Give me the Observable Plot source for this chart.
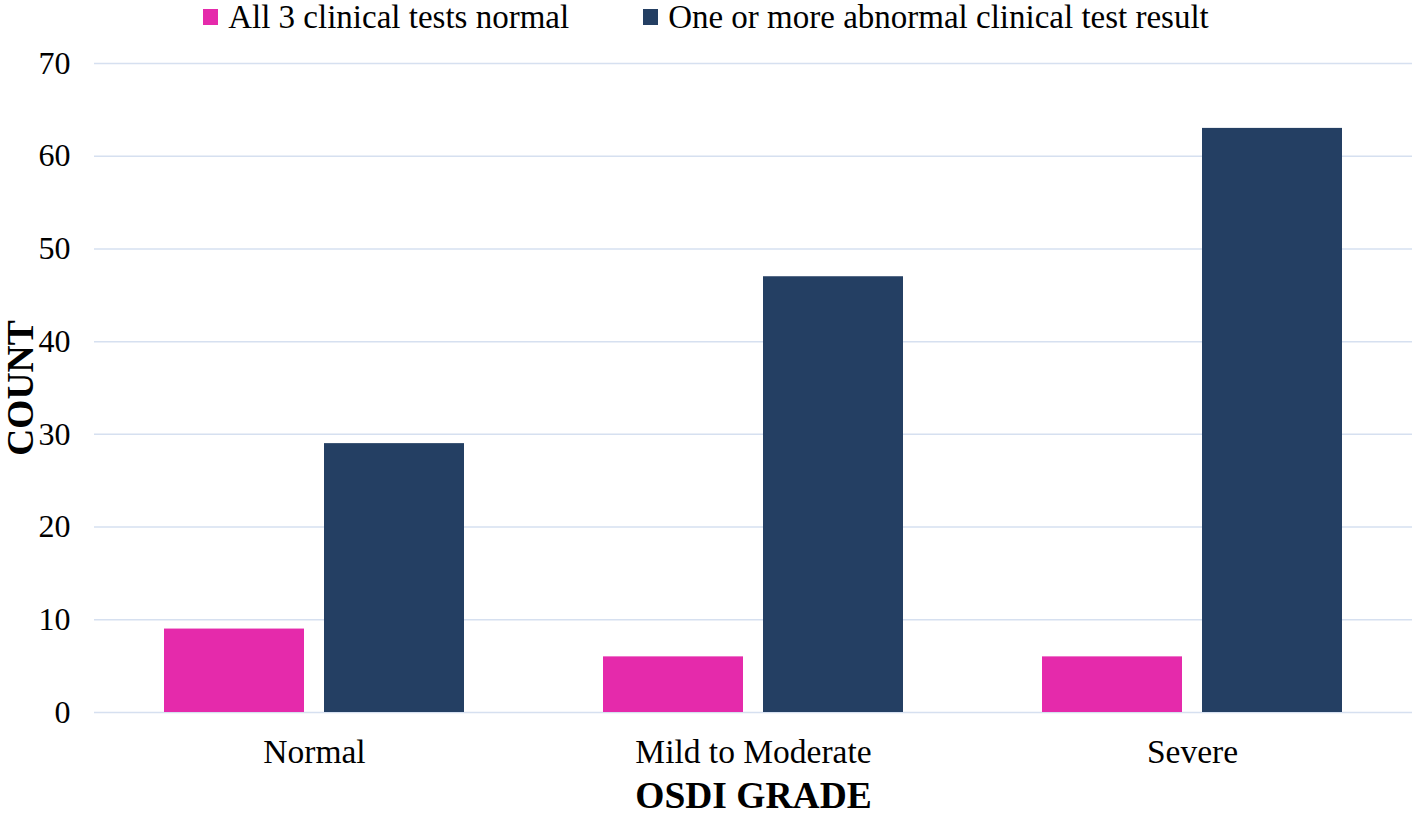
<!DOCTYPE html>
<html><head><meta charset="utf-8">
<script src="https://cdn.jsdelivr.net/npm/d3@7"></script>
<script src="https://cdn.jsdelivr.net/npm/@observablehq/plot@0.6"></script>
<style>
html,body{margin:0;padding:0;background:#fff;}
#legend{display:flex;justify-content:center;align-items:center;height:34px;font-family:"Liberation Serif",serif;font-size:33px;line-height:34px;color:#000;overflow:visible;}
.item{display:flex;align-items:center;margin:0 37px;white-space:nowrap;}
.sw{width:15px;height:16px;margin-right:10px;}
#chart{position:relative;width:1412px;height:780px;}
#chart svg{position:absolute;left:0;top:0;}
g[aria-label="y-axis label"] text, g[aria-label="fx-axis label"] text {font-weight:bold;font-size:37.5px;}
</style></head>
<body><div id="legend"></div><div id="chart"></div>
<script>
const grades = ["Normal", "Mild to Moderate", "Severe"];
const series = ["All 3 clinical tests normal", "One or more abnormal clinical test result"];
const allNormal = [9, 6, 6];
const abnormal = [29, 47, 63];
const yTicks = [0, 10, 20, 30, 40, 50, 60, 70];
const colors = ["#E52AAB", "#243F63"];

const data = grades.flatMap((g, i) => [
  {grade: g, series: series[0], count: allNormal[i]},
  {grade: g, series: series[1], count: abnormal[i]}
]);

const legend = document.getElementById("legend");
series.forEach((s, i) => {
  const item = document.createElement("div");
  item.className = "item";
  const sw = document.createElement("span");
  sw.className = "sw";
  sw.style.background = colors[i];
  const t = document.createElement("span");
  t.textContent = s;
  item.appendChild(sw); item.appendChild(t);
  legend.appendChild(item);
});

const common = {
  width: 1412, height: 780,
  marginLeft: 94, marginRight: 0, marginTop: 29, marginBottom: 102,
  y: {domain: [0, 70], label: "COUNT"}
};

// Base layer: full-width grid and y axis
const base = Plot.plot({
  ...common,
  style: {fontFamily: '"Liberation Serif", serif', fontSize: "32px", color: "#000", background: "#fff"},
  x: {axis: null},
  marks: [
    Plot.gridY(yTicks, {stroke: "#D6E0F0", strokeOpacity: 1, strokeWidth: 1.5}),
    Plot.axisY(yTicks, {tickSize: 0, tickPadding: 24, fontSize: 32, label: "COUNT", labelAnchor: "center", labelArrow: "none", labelOffset: 88})
  ]
});

// Top layer: grouped bars faceted by grade
const bars = Plot.plot({
  ...common,
  style: {fontFamily: '"Liberation Serif", serif', fontSize: "33px", color: "#000", background: "transparent"},
  fx: {domain: grades, paddingInner: 0.316, paddingOuter: 0.158, label: "OSDI GRADE"},
  x: {domain: series, paddingInner: 0.125, paddingOuter: 0, axis: null},
  color: {domain: series, range: colors},
  marks: [
    Plot.barY(data, {fx: "grade", x: "series", y: "count", fill: "series"}),
    Plot.axisFx({anchor: "bottom", tickSize: 0, tickPadding: 27, fontSize: 33.5, label: "OSDI GRADE", labelAnchor: "center", labelArrow: "none", labelOffset: 95})
  ]
});
bars.querySelectorAll('[aria-label="y-axis tick"], [aria-label="y-axis tick label"], [aria-label="y-axis label"]').forEach(n => n.remove());
const chartDiv = document.getElementById("chart");
chartDiv.appendChild(base);
chartDiv.appendChild(bars);
</script>
</body></html>
